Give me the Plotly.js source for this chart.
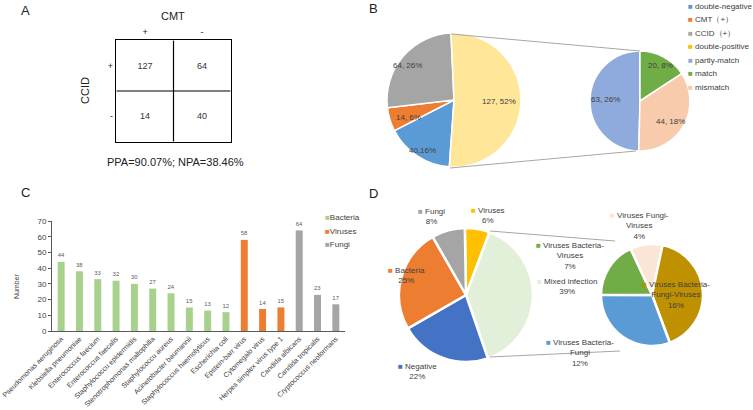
<!DOCTYPE html>
<html>
<head>
<meta charset="utf-8">
<script src="https://cdn.plot.ly/plotly-3.0.1.min.js"></script>
<style>html,body{margin:0;padding:0;background:#fff;}#chart{width:753px;height:410px;}</style>
</head>
<body>
<div id="chart"></div>
<script>
// ---------- DATA ----------
// Panel A: 2x2 agreement table
const matrixCols = ['+', '-'];          // CMT
const matrixRows = ['+', '-'];          // CCID
const matrixValues = [[127, 64], [14, 40]];
const agreementText = 'PPA=90.07%; NPA=38.46%';

// Panel B: main pie + secondary pie
const pieBLabels = ['double-negative', 'CMT（+）', 'CCID（+）', 'double-positive'];
const pieBValues = [40, 14, 64, 127];
const pieBText = ['40,16%', '14, 6%', '64, 26%', '127, 52%'];
const pieBColors = ['#5B9BD5', '#ED7D31', '#A5A5A5', '#FFE699'];
const pieBLegendColors = ['#5B9BD5', '#ED7D31', '#A5A5A5', '#FFC000'];
const subBLabels = ['partly-match', 'match', 'mismatch'];
const subBValues = [63, 20, 44];
const subBText = ['63, 26%', '20, 8%', '44, 18%'];
const subBColors = ['#8FAADC', '#70AD47', '#F8CBAD'];

// Panel C: pathogens
const pathogens = ['Pseudomonas aeruginosa', 'Klebsiella pneumoniae', 'Enterococcus faecium',
  'Enterococcus faecalis', 'Staphylococcu epidermidis', 'Stenotrophomonas maltophilia',
  'Staphylococcu aureus', 'Acinetobacter baumannii', 'Staphylococcus haemolyticus',
  'Escherichia coli', 'Epstein-barr virus', 'Cytomegalo virus', 'Herpes simplex virus type 1',
  'Candida albicans', 'Candida tropicalis', 'Cryptococcus neoformans'];
const pathogenCounts = [44, 38, 33, 32, 30, 27, 24, 15, 13, 12, 58, 14, 15, 64, 23, 17];
const pathogenGroups = ['Bacteria', 'Bacteria', 'Bacteria', 'Bacteria', 'Bacteria', 'Bacteria',
  'Bacteria', 'Bacteria', 'Bacteria', 'Bacteria', 'Viruses', 'Viruses', 'Viruses',
  'Fungi', 'Fungi', 'Fungi'];
const groupNames = ['Bacteria', 'Viruses', 'Fungi'];
const groupColors = ['#A9D18E', '#ED7D31', '#A5A5A5'];
const yTitleC = 'Number';

// Panel D: main pie + secondary pie (percent)
const pieDLabels = ['Viruses', 'Mixed infection', 'Negative', 'Bacteria', 'Fungi'];
const pieDValues = [6, 39, 22, 25, 8];
const pieDColors = ['#FFC000', '#E2F0D9', '#4472C4', '#ED7D31', '#A5A5A5'];
const subDLabels = ['Viruses Fungi-<br>Viruses', 'Viruses Bacteria-<br>Fungi-Viruses', 'Viruses Bacteria-<br>Fungi', 'Viruses Bacteria-<br>Viruses'];
const subDValues = [4, 16, 12, 7];
const subDColors = ['#FBE5D6', '#BF9000', '#5B9BD5', '#70AD47'];

// ---------- LAYOUT HELPERS ----------
const W = 753, H = 410;
const px = x => x / W;
const py = y => 1 - y / H;
const FONT = 'Liberation Sans, Arial, sans-serif';
const TXT = '#404040';

const traces = [];

// Panel A heatmap (white cells with values)
traces.push({
  type: 'heatmap', x: matrixCols, y: matrixRows, z: matrixValues,
  xaxis: 'x2', yaxis: 'y2',
  colorscale: [[0, '#ffffff'], [1, '#ffffff']], showscale: false,
  texttemplate: '%{z}', textfont: {size: 9, color: '#333', family: FONT},
  hoverinfo: 'skip'
});

// Panel C bars
groupNames.forEach((g, gi) => {
  const xs = [], ys = [];
  pathogens.forEach((p, i) => { if (pathogenGroups[i] === g) { xs.push(p); ys.push(pathogenCounts[i]); } });
  traces.push({
    type: 'bar', x: xs, y: ys, name: g, xaxis: 'x', yaxis: 'y',
    marker: {color: groupColors[gi]}, text: ys.map(String), textposition: 'outside',
    textfont: {size: 8, color: '#595959', family: FONT}, cliponaxis: false,
    showlegend: false, hoverinfo: 'skip'
  });
});

// Panel B pies
traces.push({
  type: 'pie', labels: pieBLabels, values: pieBValues, sort: false, direction: 'clockwise', rotation: 184,
  marker: {colors: pieBColors, line: {color: '#fff', width: 1.5}}, textinfo: 'none',
  domain: {x: [px(387), px(521)], y: [py(167), py(33)]}, showlegend: false, hoverinfo: 'skip'
});
traces.push({
  type: 'pie', labels: subBLabels, values: subBValues, sort: false, direction: 'clockwise', rotation: 181.4,
  marker: {colors: subBColors, line: {color: '#fff', width: 1.5}}, textinfo: 'none',
  domain: {x: [px(590), px(690)], y: [py(151), py(51)]}, showlegend: false, hoverinfo: 'skip'
});

// Panel D pies
traces.push({
  type: 'pie', labels: pieDLabels, values: pieDValues, sort: false, direction: 'clockwise', rotation: -1,
  marker: {colors: pieDColors, line: {color: '#fff', width: 2.5}}, textinfo: 'none',
  domain: {x: [px(399), px(533)], y: [py(362), py(228)]}, showlegend: false, hoverinfo: 'skip'
});
traces.push({
  type: 'pie', labels: subDLabels, values: subDValues, sort: false, direction: 'clockwise', rotation: -25,
  marker: {colors: subDColors, line: {color: '#fff', width: 2.5}}, textinfo: 'none',
  domain: {x: [px(601), px(703)], y: [py(346), py(244)]}, showlegend: false, hoverinfo: 'skip'
});

// ---------- ANNOTATIONS ----------
const ann = [];
function note(x, y, text, opts) {
  ann.push(Object.assign({xref: 'paper', yref: 'paper', x: px(x), y: py(y), text: text,
    showarrow: false, xanchor: 'center', yanchor: 'middle',
    font: {family: FONT, size: 8, color: TXT}}, opts || {}));
}
// panel letters
note(25, 10, 'A', {font: {family: FONT, size: 13, color: '#222'}});
note(373, 8, 'B', {font: {family: FONT, size: 13, color: '#222'}});
note(25, 192, 'C', {font: {family: FONT, size: 13, color: '#222'}});
note(373, 193, 'D', {font: {family: FONT, size: 13, color: '#222'}});
// panel A texts
note(173, 16, 'CMT', {font: {family: FONT, size: 11, color: '#222'}});
note(85, 91, 'CCID', {textangle: -90, font: {family: FONT, size: 11, color: '#222'}});
note(175, 162, agreementText, {font: {family: FONT, size: 11, color: '#222'}});

// panel B slice labels
const bPos = [[423, 150], [408, 117], [407, 65], [499, 101]];
pieBText.forEach((t, i) => note(bPos[i][0], bPos[i][1], t));
const bSubPos = [[605, 99], [660, 65], [670, 121]];
subBText.forEach((t, i) => note(bSubPos[i][0], bSubPos[i][1], t));

// panel B legend
const legB = pieBLabels.concat(subBLabels);
const legBCol = pieBLegendColors.concat(subBColors);
const legBY = [6, 19.5, 33.3, 46.8, 60.6, 74, 87.4];
legB.forEach((l, i) => note(686, legBY[i], '<span style="color:' + legBCol[i] + '">■</span> ' + l, {xanchor: 'left'}));

// panel C legend + axis title
const legCY = [217.3, 231.5, 244.3];
groupNames.forEach((g, i) => note(323, legCY[i], '<span style="color:' + groupColors[i] + '">■</span>' + g, {xanchor: 'left'}));
note(16, 286, yTitleC, {textangle: -90, font: {family: FONT, size: 7, color: TXT}});

// panel D labels
const dPos = [[488, 215], [567, 286], [418, 371], [406, 275], [431, 216]];
pieDLabels.forEach((l, i) => note(dPos[i][0], dPos[i][1],
  '<span style="color:' + pieDColors[i] + '">■</span> ' + l + '<br>' + pieDValues[i] + '%'));
const dSubPos = [[639, 226], [676, 295], [580, 353], [570, 256]];
subDLabels.forEach((l, i) => note(dSubPos[i][0], dSubPos[i][1],
  '<span style="color:' + subDColors[i] + '">■</span> ' + l + '<br>' + subDValues[i] + '%'));

// ---------- SHAPES ----------
const shapes = [
  {type: 'line', xref: 'x2', yref: 'y2', x0: 0.5, x1: 0.5, y0: -0.5, y1: 1.5, line: {color: '#000', width: 1.2}},
  {type: 'line', xref: 'x2', yref: 'y2', x0: -0.5, x1: 1.5, y0: 0.5, y1: 0.5, line: {color: '#000', width: 1.2}}
];
function seg(x0, y0, x1, y1) {
  shapes.push({type: 'line', xref: 'paper', yref: 'paper', x0: px(x0), y0: py(y0), x1: px(x1), y1: py(y1),
    line: {color: '#A6A6A6', width: 1}});
}
seg(451, 34, 640, 51);
seg(450, 168, 636, 151);
seg(490, 231, 615, 241);
seg(490, 357, 620, 351);

const layout = {
  width: W, height: H, margin: {l: 0, r: 0, t: 0, b: 0},
  paper_bgcolor: '#fff', plot_bgcolor: '#fff',
  font: {family: FONT, color: TXT},
  barmode: 'overlay', bargap: 0.62,
  xaxis: {domain: [px(52), px(345)], anchor: 'y', type: 'category', categoryorder: 'array', categoryarray: pathogens,
    range: [-0.5, 15.5], showline: true, linecolor: '#595959', linewidth: 1, ticks: '', tickangle: -45,
    tickfont: {size: 7.1, color: TXT, family: FONT}, showgrid: false, zeroline: false, fixedrange: true},
  yaxis: {domain: [py(331), py(221)], anchor: 'x', range: [0, 70], dtick: 10, showline: true, linecolor: '#595959',
    linewidth: 1, ticks: 'outside', ticklen: 3, tickcolor: '#595959', tickfont: {size: 8, color: TXT, family: FONT},
    showgrid: false, zeroline: false, fixedrange: true},
  xaxis2: {domain: [px(116), px(231)], anchor: 'y2', type: 'category', side: 'top', showline: true, mirror: true,
    linecolor: '#000', linewidth: 1.2, ticks: '', showgrid: false, zeroline: false,
    tickfont: {size: 9, color: '#222', family: FONT}, fixedrange: true},
  yaxis2: {domain: [py(142), py(40)], anchor: 'x2', type: 'category', autorange: 'reversed', showline: true, mirror: true,
    linecolor: '#000', linewidth: 1.2, ticks: '', showgrid: false, zeroline: false,
    tickfont: {size: 9, color: '#222', family: FONT}, fixedrange: true},
  annotations: ann, shapes: shapes, showlegend: false
};

Plotly.newPlot('chart', traces, layout, {staticPlot: true, displayModeBar: false});
</script>
</body>
</html>
